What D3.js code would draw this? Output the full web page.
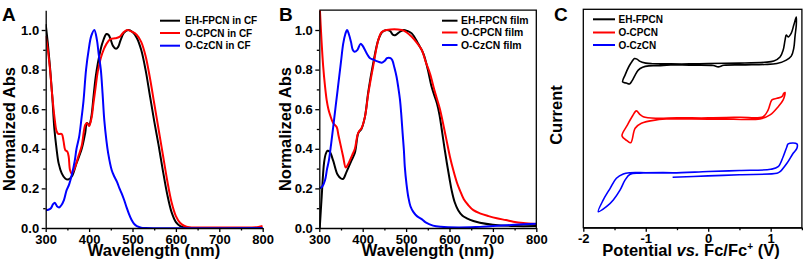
<!DOCTYPE html>
<html lang="en">
<head>
<meta charset="UTF-8">
<title>Absorption spectra and cyclic voltammetry</title>
<script src="https://d3js.org/d3.v7.min.js"></script>
<style>
  body { margin: 0; background: #fff; }
  svg { display: block; font-family: "Liberation Sans", Arial, sans-serif; }
  .axis path, .axis line { stroke: #000; stroke-width: 1.3px; }
  .axis text { font-size: 13px; font-weight: bold; fill: #000; }
  .trace { fill: none; stroke-width: 2px; stroke-linejoin: round; }
  .cv { fill: none; stroke-width: 1.6px; stroke-linejoin: round; }
  .title { font-size: 16.5px; font-weight: bold; }
  .legend { font-size: 10px; font-weight: bold; }
  .letter { font-size: 19px; font-weight: bold; }
</style>
</head>
<body>
<svg id="chart" width="803" height="268"></svg>
<script>
// ---- data ----
const colors = ['#000000', '#ff0000', '#0000ff'];

// panel A, solutions in CF
const namesA = ['EH-FPCN in CF', 'O-CPCN in CF', 'O-CzCN in CF'];
const ehCF_wl = [300, 305, 310, 315, 320, 325, 330, 337, 345, 352, 360, 371, 383, 391, 395, 400, 405, 410, 415, 420, 430, 440, 445, 450, 455, 462, 467, 472, 480, 490, 500, 510, 520, 530, 540, 550, 560, 570, 580, 590, 600, 610, 620, 640, 700, 800];
const ehCF_abs = [1.03, 0.93, 0.81, 0.67, 0.5, 0.4, 0.325, 0.276, 0.25, 0.245, 0.26, 0.327, 0.40, 0.48, 0.53, 0.52, 0.56, 0.66, 0.76, 0.83, 0.93, 0.98, 0.975, 0.95, 0.92, 0.905, 0.915, 0.945, 0.985, 1.0, 0.99, 0.96, 0.9, 0.8, 0.67, 0.54, 0.42, 0.29, 0.17, 0.08, 0.03, 0.01, 0.003, 0, 0, 0];
const ocCF_wl = [300, 305, 310, 315, 321, 325, 329, 337, 341, 345, 350, 353, 356, 360, 368, 375, 383, 391, 395, 400, 406, 410, 415, 420, 430, 440, 450, 460, 470, 478, 488, 500, 510, 520, 530, 540, 550, 560, 570, 580, 590, 600, 610, 620, 630, 650, 700, 750, 790, 800];
const ocCF_abs = [0.97, 0.9, 0.8, 0.67, 0.545, 0.49, 0.475, 0.475, 0.44, 0.394, 0.385, 0.36, 0.293, 0.275, 0.31, 0.36, 0.415, 0.52, 0.53, 0.515, 0.56, 0.63, 0.71, 0.79, 0.88, 0.93, 0.955, 0.958, 0.965, 0.985, 1.0, 0.99, 0.975, 0.94, 0.87, 0.76, 0.63, 0.5, 0.37, 0.24, 0.13, 0.06, 0.025, 0.01, 0.004, 0.002, 0.003, 0.003, 0.005, 0.01];
const czCF_wl = [300, 306, 312, 317, 321, 326, 331, 336, 342, 348, 354, 361, 367, 371, 377, 382, 387, 393, 399, 405, 412, 418, 422, 427, 431, 435, 440, 444, 452, 458, 464, 470, 475, 481, 487, 492, 498, 504, 510, 520, 530, 800];
const czCF_abs = [0.09, 0.092, 0.1, 0.12, 0.128, 0.11, 0.104, 0.115, 0.141, 0.19, 0.22, 0.276, 0.34, 0.4, 0.46, 0.545, 0.64, 0.8, 0.9, 0.97, 1.0, 0.95, 0.88, 0.8, 0.68, 0.545, 0.44, 0.377, 0.293, 0.26, 0.234, 0.2, 0.175, 0.14, 0.1, 0.07, 0.04, 0.02, 0.01, 0.002, 0, 0];

// panel B, films
const namesB = ['EH-FPCN film', 'O-CPCN film', 'O-CzCN film'];
const ehF_wl = [301, 305, 311, 315, 319, 324, 332, 342, 350, 355, 363, 374, 382, 390, 397, 405, 413, 424, 436, 445, 455, 463, 470, 476, 485, 494, 503, 513, 528, 540, 550, 558, 565, 571, 577, 582, 588, 594, 600, 605, 612, 620, 630, 640, 655, 670, 700, 750, 800];
const ehF_abs = [0, 0.14, 0.33, 0.375, 0.39, 0.385, 0.34, 0.27, 0.25, 0.248, 0.285, 0.34, 0.38, 0.48, 0.5, 0.56, 0.69, 0.83, 0.95, 0.99, 1.0, 0.995, 0.975, 0.975, 0.99, 1.0, 0.995, 0.983, 0.93, 0.88, 0.8, 0.72, 0.67, 0.63, 0.57, 0.5, 0.41, 0.327, 0.25, 0.19, 0.13, 0.09, 0.062, 0.049, 0.035, 0.027, 0.017, 0.01, 0.01];
const ocF_wl = [301, 305, 309, 313, 317, 321, 325, 332, 340, 344, 348, 355, 361, 367, 376, 382, 388, 392, 397, 405, 413, 424, 436, 444, 455, 490, 500, 513, 525, 536, 545, 555, 566, 578, 585, 593, 601, 609, 617, 624, 633, 643, 655, 670, 690, 709, 730, 747, 770, 800];
const ocF_abs = [1.12, 0.95, 0.815, 0.72, 0.646, 0.6, 0.57, 0.53, 0.51, 0.47, 0.43, 0.36, 0.305, 0.325, 0.369, 0.40, 0.47, 0.49, 0.503, 0.56, 0.68, 0.815, 0.95, 0.99, 1.0, 1.0, 0.99, 0.966, 0.935, 0.9, 0.84, 0.78, 0.69, 0.6, 0.53, 0.445, 0.36, 0.29, 0.23, 0.19, 0.145, 0.116, 0.09, 0.074, 0.06, 0.049, 0.04, 0.032, 0.025, 0.02];
const czF_wl = [301, 307, 313, 318, 322, 327, 332, 338, 344, 350, 355, 360, 364, 368, 373, 377, 381, 388, 395, 400, 405, 411, 417, 425, 432, 438, 444, 451, 456, 460, 464, 468, 473, 478, 482, 486, 489, 492, 495, 497, 501, 505, 510, 517, 525, 536, 545, 562, 580, 620, 660, 700, 750, 800];
const czF_abs = [0.2, 0.21, 0.24, 0.3, 0.34, 0.42, 0.51, 0.62, 0.73, 0.84, 0.93, 0.98, 1.0, 0.98, 0.94, 0.9, 0.89, 0.9, 0.93, 0.92, 0.9, 0.875, 0.857, 0.85, 0.843, 0.838, 0.835, 0.845, 0.858, 0.86, 0.858, 0.848, 0.81, 0.764, 0.71, 0.646, 0.57, 0.478, 0.39, 0.31, 0.22, 0.158, 0.11, 0.08, 0.06, 0.045, 0.028, 0.012, 0.006, 0.003, 0.005, 0.01, 0.016, 0.022];

// panel C, cyclic voltammograms (potential V vs Fc/Fc+, current in arbitrary offset units)
const namesC = ['EH-FPCN', 'O-CPCN', 'O-CzCN'];
const cvEH_V = [-0.6, -0.8, -0.95, -1.05, -1.12, -1.17, -1.22, -1.26, -1.31, -1.37, -1.33, -1.27, -1.22, -1.18, -1.14, -1.1, -1.0, -0.9, -0.6, -0.3, 0, 0.5, 0.9, 1.05, 1.15, 1.2, 1.23, 1.25, 1.28, 1.33, 1.37, 1.41, 1.41, 1.39, 1.37, 1.33, 1.25, 1.1, 0.9, 0.6, 0.25, 0.16, 0.08, -0.3, -0.6];
const cvEH_I = [81.4, 81.0, 80.9, 80.2, 78.8, 76.3, 73.4, 71.9, 72.3, 72.9, 76.4, 80.6, 83.1, 84.6, 84.3, 83.3, 82.3, 82.0, 81.9, 81.9, 82.1, 82.3, 82.7, 83.3, 85.3, 88.8, 93.8, 96.3, 95.4, 97.3, 101.3, 105.3, 101.3, 95.8, 89.8, 85.8, 83.8, 82.1, 81.6, 81.4, 81.2, 80.4, 81.1, 81.3, 81.4];
const cvOC_V = [-0.6, -0.83, -1.07, -1.17, -1.24, -1.3, -1.38, -1.3, -1.22, -1.15, -1.1, -1.04, -0.83, -0.5, 0, 0.5, 0.88, 0.96, 1.02, 1.1, 1.18, 1.21, 1.23, 1.2, 1.12, 0.99, 0.83, 0.4, 0, -0.6];
const cvOC_I = [54.5, 53.9, 52.2, 49.7, 42.5, 43.5, 45.9, 51, 55.5, 58.4, 56.8, 55.5, 54.7, 54.9, 54.9, 55.2, 55.5, 58.9, 63.9, 64.7, 65.5, 67.2, 67.6, 63.9, 60.5, 56.4, 54.4, 54.2, 54.3, 54.5];
const cvCz_V = [-0.57, 0, 0.5, 1.1, 1.15, 1.26, 1.36, 1.42, 1.42, 1.28, 1.26, 1.2, 1.12, 1.0, 0.5, 0, -0.57, -1.0, -1.25, -1.36, -1.47, -1.57, -1.68, -1.76, -1.63, -1.52, -1.41, -1.33, -1.25, -1.1, -0.57];
const cvCz_I = [25.2, 25.9, 26.5, 27.2, 28, 32.2, 37.2, 39.7, 41.9, 41.9, 40.5, 35.5, 30.5, 29.2, 28.6, 28.1, 27.4, 27.5, 27.5, 26.9, 24.7, 19.7, 13.9, 8.0, 10.5, 13.9, 18.9, 23.9, 26.7, 27.3, 27.5];

const absTicks = [0, 0.2, 0.4, 0.6, 0.8, 1.0];
const absMinor = [0.1, 0.3, 0.5, 0.7, 0.9];
const wlTicks = [300, 400, 500, 600, 700, 800];
const wlMinor = [350, 450, 550, 650, 750];
const vTicks = [-2, -1, 0, 1];
const vMinor = [-1.5, -0.5, 0.5, 1.5];

// ---- drawing ----
const svg = d3.select('#chart');
const zip = (xs, ys) => xs.map((x, i) => [x, ys[i]]);

function panel(id, x, y) {
    svg.append('clipPath').attr('id', id)
        .append('rect')
        .attr('x', x.range()[0]).attr('y', y.range()[1])
        .attr('width', x.range()[1] - x.range()[0])
        .attr('height', y.range()[0] - y.range()[1]);
    return svg.append('g').attr('clip-path', `url(#${id})`);
}

function spectrumAxes(x, y, frame) {
    const y0 = y.range()[0];
    const x0 = x.range()[0];
    svg.append('g').attr('class', 'axis').attr('transform', `translate(0,${y0})`)
        .call(d3.axisBottom(x).tickValues(wlTicks).tickSize(4).tickPadding(2.5).tickSizeOuter(0));
    svg.append('g').attr('class', 'axis').attr('transform', `translate(0,${y0})`)
        .call(d3.axisBottom(x).tickValues(wlMinor).tickSize(2.5).tickFormat('').tickSizeOuter(0))
        .select('.domain').remove();
    svg.append('g').attr('class', 'axis').attr('transform', `translate(${x0},0)`)
        .call(d3.axisLeft(y).tickValues(absTicks).tickFormat(d3.format('.1f')).tickSize(4).tickPadding(2.5).tickSizeOuter(0));
    svg.append('g').attr('class', 'axis').attr('transform', `translate(${x0},0)`)
        .call(d3.axisLeft(y).tickValues(absMinor).tickSize(2.5).tickFormat('').tickSizeOuter(0))
        .select('.domain').remove();
    if (frame) {
        svg.append('path')
            .attr('d', `M${x.range()[0]},${y.range()[1]}H${x.range()[1]}V${y0}`)
            .attr('fill', 'none').attr('stroke', '#000').attr('stroke-width', 1.3);
    }
}

function legend(names, x1, x2, tx, rows, size) {
    names.forEach((n, i) => {
        svg.append('line').attr('x1', x1).attr('x2', x2).attr('y1', rows[i]).attr('y2', rows[i])
            .attr('stroke', colors[i]).attr('stroke-width', 2);
        svg.append('text').attr('class', 'legend').attr('x', tx).attr('y', rows[i] + 3.6)
            .style('font-size', size).text(n);
    });
}

function yTitle(txt, x, y) {
    svg.append('text').attr('class', 'title')
        .attr('transform', `translate(${x},${y}) rotate(-90)`)
        .attr('text-anchor', 'middle').text(txt);
}

// Panel A
const xA = d3.scaleLinear().domain([300, 800]).range([45.7, 262.7]);
const yA = d3.scaleLinear().domain([0, 1.1]).range([228, 10.2]);
const lineA = d3.line().x(d => xA(d[0])).y(d => yA(d[1])).curve(d3.curveCatmullRom.alpha(0.5));
const gA = panel('clipA', xA, yA);
[zip(ehCF_wl, ehCF_abs), zip(ocCF_wl, ocCF_abs), zip(czCF_wl, czCF_abs)].forEach((s, i) => {
    gA.append('path').attr('class', 'trace').attr('stroke', colors[i]).attr('d', lineA(s));
});
spectrumAxes(xA, yA, false);
legend(namesA, 160, 180, 185, [20.7, 33, 45.7], '10px');
yTitle('Normalized Abs', 15, 129);
svg.append('text').attr('class', 'title').attr('x', 154).attr('y', 256).attr('text-anchor', 'middle').text('Wavelength (nm)');
svg.append('text').attr('class', 'letter').attr('x', 2).attr('y', 20.5).text('A');

// Panel B
const xB = d3.scaleLinear().domain([300, 800]).range([319.3, 536.3]);
const yB = d3.scaleLinear().domain([0, 1.1]).range([228, 10.2]);
const lineB = d3.line().x(d => xB(d[0])).y(d => yB(d[1])).curve(d3.curveCatmullRom.alpha(0.5));
const gB = panel('clipB', xB, yB);
[zip(ehF_wl, ehF_abs), zip(ocF_wl, ocF_abs), zip(czF_wl, czF_abs)].forEach((s, i) => {
    gB.append('path').attr('class', 'trace').attr('stroke', colors[i]).attr('d', lineB(s));
});
spectrumAxes(xB, yB, true);
legend(namesB, 442, 457.5, 461, [20.7, 32.5, 45], '10.4px');
yTitle('Normalized Abs', 290.5, 129);
svg.append('text').attr('class', 'title').attr('x', 428).attr('y', 256).attr('text-anchor', 'middle').text('Wavelength (nm)');
svg.append('text').attr('class', 'letter').attr('x', 279).attr('y', 20.5).text('B');

// Panel C
const xC = d3.scaleLinear().domain([-2, 1.5]).range([583.3, 801.9]);
const yC = d3.scaleLinear().domain([0, 109.2]).range([227.7, 9.3]);
const lineC = d3.line().x(d => xC(d[0])).y(d => yC(d[1])).curve(d3.curveCatmullRom.alpha(0.5));
const gC = panel('clipC', xC, yC);
[zip(cvEH_V, cvEH_I), zip(cvOC_V, cvOC_I), zip(cvCz_V, cvCz_I)].forEach((s, i) => {
    gC.append('path').attr('class', 'cv').attr('stroke', colors[i]).attr('d', lineC(s));
});
svg.append('g').attr('class', 'axis').attr('transform', `translate(0,${yC.range()[0]})`)
    .call(d3.axisBottom(xC).tickValues(vTicks).tickFormat(d => d < 0 ? '-' + Math.abs(d) : d)
        .tickSize(4).tickPadding(2.5).tickSizeOuter(0));
svg.append('g').attr('class', 'axis').attr('transform', `translate(0,${yC.range()[0]})`)
    .call(d3.axisBottom(xC).tickValues(vMinor).tickSize(2.5).tickFormat('').tickSizeOuter(0))
    .select('.domain').remove();
svg.append('rect')
    .attr('x', xC.range()[0]).attr('y', yC.range()[1])
    .attr('width', xC.range()[1] - xC.range()[0]).attr('height', yC.range()[0] - yC.range()[1])
    .attr('fill', 'none').attr('stroke', '#000').attr('stroke-width', 1.3);
legend(namesC, 593, 615, 618.5, [19.3, 32.5, 45], '10px');
yTitle('Current', 562, 115);
const xt = svg.append('text').attr('class', 'title').attr('x', 691).attr('y', 256).attr('text-anchor', 'middle');
xt.append('tspan').text('Potential ');
xt.append('tspan').style('font-style', 'italic').text('vs.');
xt.append('tspan').text(' Fc/Fc');
xt.append('tspan').attr('dy', -6).style('font-size', '10px').text('+');
xt.append('tspan').attr('dy', 6).text(' (V)');
svg.append('text').attr('class', 'letter').attr('x', 554).attr('y', 20.5).text('C');
</script>
</body>
</html>
